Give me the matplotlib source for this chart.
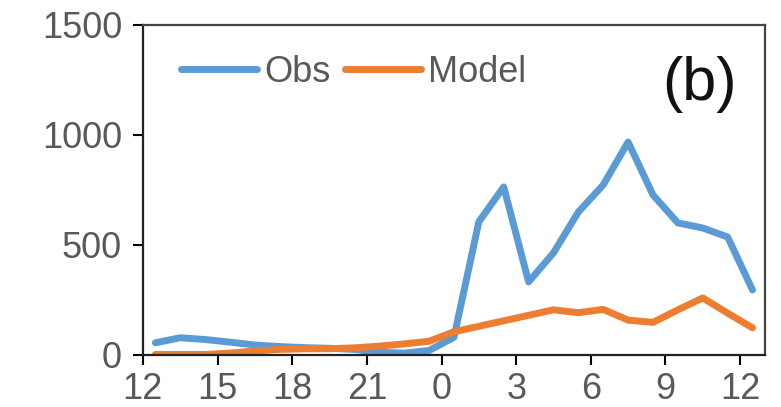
import matplotlib
matplotlib.use("Agg")
import matplotlib.pyplot as plt
import numpy as np

hours = np.arange(12.5, 37.0, 1.0)  # half-hour centred hourly categories
obs = [55, 78, 70, 58, 45, 38, 33, 30, 25, 12, 8, 20, 80,
       605, 764, 332, 464, 650, 773, 968, 727, 600, 577, 536, 295]
model = [2, 2, 2, 8, 18, 25, 28, 28, 32, 40, 50, 62, 105,
         130, 155, 180, 205, 192, 207, 158, 148, 205, 259, 190, 123]
tick_pos = [12, 15, 18, 21, 24, 27, 30, 33, 36]
tick_labels = ["12", "15", "18", "21", "0", "3", "6", "9", "12"]
yticks = [0, 500, 1000, 1500]

plt.rcParams['font.family'] = ['Liberation Sans', 'DejaVu Sans']
fig = plt.figure(figsize=(7.81, 4.07), dpi=100)
ax = fig.add_axes([0.183, 0.128, 0.7965, 0.8106])

blue = '#5B9BD5'
orange = '#ED7D31'
ax.plot(hours, obs, color=blue, lw=5, label='Obs', solid_joinstyle='round', solid_capstyle='round')
ax.plot(hours, model, color=orange, lw=5, label='Model', solid_joinstyle='round', solid_capstyle='round')

ax.set_xlim(12, 37)
ax.set_ylim(0, 1500)
ax.set_xticks(tick_pos)
ax.set_xticklabels(tick_labels)
ax.set_yticks(yticks)

gray = '#595959'
ax.tick_params(axis='both', labelsize=26, colors='black', labelcolor=gray,
               width=1.5, length=7, direction='out')
ax.tick_params(axis='x', pad=5)
ax.tick_params(axis='y', pad=8)
for s in ['left', 'bottom']:
    ax.spines[s].set_color('#222222')
    ax.spines[s].set_linewidth(1.6)
for s in ['top', 'right']:
    ax.spines[s].set_color('#444444')
    ax.spines[s].set_linewidth(1.6)

leg = ax.legend(loc='center left', bbox_to_anchor=(0.062, 0.857), ncol=2, frameon=False,
                fontsize=26, handlelength=2.1, handletextpad=0.2, columnspacing=0.4,
                borderpad=0, borderaxespad=0)
for t in leg.get_texts():
    t.set_color(gray)

ax.text(0.955, 0.82, '(b)', transform=ax.transAxes, fontsize=44, color='#111111',
        ha='right', va='center')

fig.savefig('out.png', dpi=100)
